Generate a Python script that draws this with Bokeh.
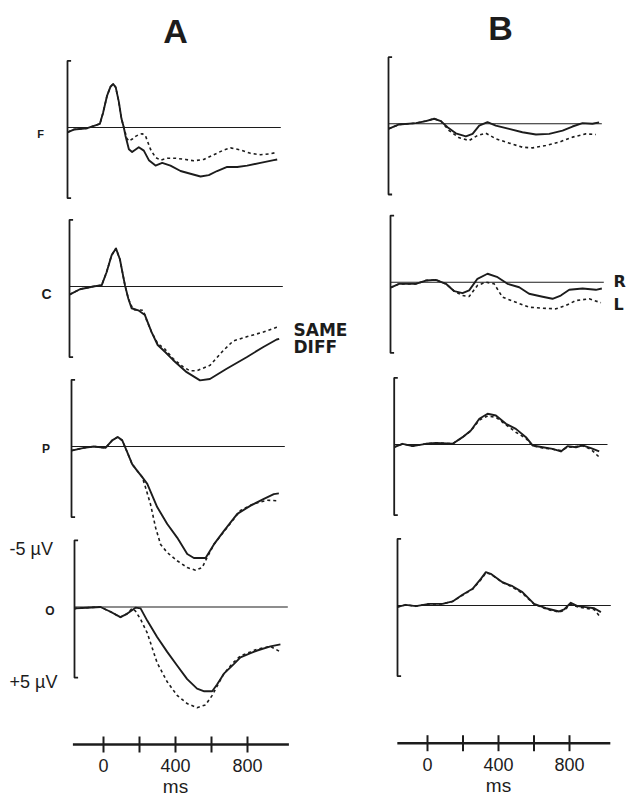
from bokeh.plotting import figure
from bokeh.models import Range1d
from bokeh.core.properties import value
from bokeh.embed import file_html
from bokeh.resources import INLINE

# ---------------- data (ms, microvolts; negative plotted upward) ----------------
ROWS = ["F", "C", "P", "O"]

# Column A: SAME (dotted) vs DIFF (solid)
A_F_DIFF_t = [-200, -165, -90, -20, -2, 20, 39, 54, 68, 85, 100, 113, 122, 141, 159, 196, 224, 252, 289, 326, 372, 428, 483, 539, 585, 631, 687, 743, 798, 872, 946, 965]
A_F_DIFF_v = [0.35, 0.15, 0.05, -0.27, -1.1, -2.35, -3.0, -3.2, -2.95, -1.9, -0.64, 0.0, 0.6, 1.6, 1.8, 1.45, 1.7, 2.4, 2.8, 2.6, 2.8, 3.2, 3.4, 3.6, 3.5, 3.2, 2.9, 2.9, 2.8, 2.6, 2.4, 2.35]
A_F_SAME_t = [-200, -165, -90, -20, -2, 20, 39, 54, 68, 85, 100, 113, 130, 141, 160, 178, 200, 215, 233, 261, 289, 317, 354, 400, 456, 502, 557, 613, 669, 706, 761, 817, 872, 919, 956, 965]
A_F_SAME_v = [0.35, 0.15, 0.05, -0.27, -1.1, -2.35, -3.0, -3.2, -2.95, -1.9, -0.64, 0.0, 0.8, 1.0, 0.85, 0.65, 0.5, 0.46, 0.6, 1.6, 2.2, 2.4, 2.26, 2.26, 2.35, 2.45, 2.35, 2.0, 1.65, 1.5, 1.65, 1.9, 2.0, 1.95, 1.85, 1.8]

A_C_DIFF_t = [-200, -142, -68, -21, 6, 34, 58, 80, 108, 127, 145, 182, 219, 256, 290, 330, 375, 451, 525, 580, 673, 784, 877, 951, 965]
A_C_DIFF_v = [0.6, 0.2, 0.0, -0.1, -1.05, -2.3, -2.8, -2.0, -0.1, 0.9, 1.6, 1.75, 2.1, 3.35, 4.3, 4.8, 5.4, 6.3, 6.9, 6.8, 6.05, 5.2, 4.45, 3.9, 3.85]
A_C_SAME_t = [-200, -142, -68, -21, 6, 34, 58, 80, 108, 127, 154, 210, 229, 256, 290, 330, 375, 430, 469, 506, 580, 655, 710, 784, 877, 951, 965]
A_C_SAME_v = [0.6, 0.2, 0.0, -0.1, -1.05, -2.3, -2.8, -2.0, -0.1, 0.9, 1.7, 1.75, 2.5, 3.35, 4.2, 4.6, 5.3, 5.9, 6.2, 6.2, 5.8, 4.7, 4.0, 3.7, 3.35, 3.0, 2.95]

A_P_DIFF_t = [-200, -131, -76, -11, 26, 57, 82, 109, 137, 160, 193, 221, 276, 332, 387, 443, 480, 545, 591, 647, 721, 795, 869, 924, 952]
A_P_DIFF_v = [0.3, 0.1, 0.0, 0.1, -0.45, -0.7, -0.45, 0.4, 1.3, 1.7, 2.25, 2.75, 4.45, 5.7, 6.7, 7.9, 8.2, 8.2, 7.2, 6.2, 4.95, 4.35, 3.85, 3.5, 3.45]
A_P_SAME_t = [-200, -131, -76, -11, 26, 57, 82, 109, 137, 160, 193, 211, 239, 267, 295, 332, 387, 443, 489, 526, 554, 591, 665, 739, 813, 887, 952]
A_P_SAME_v = [0.3, 0.1, 0.0, 0.1, -0.45, -0.7, -0.45, 0.4, 1.3, 1.7, 2.25, 3.0, 4.25, 5.95, 7.2, 7.8, 8.4, 8.9, 9.1, 8.9, 8.15, 7.2, 5.95, 4.7, 4.2, 3.95, 4.0]

A_O_DIFF_t = [-200, -195, -130, -56, 0, 55, 92, 139, 167, 204, 259, 315, 370, 426, 481, 521, 565, 592, 630, 685, 722, 778, 815, 889, 944]
A_O_DIFF_v = [0.15, 0.1, 0.05, 0.0, 0.35, 0.75, 0.5, 0.05, 0.1, 1.0, 2.2, 3.3, 4.3, 5.3, 6.0, 6.2, 6.2, 5.7, 4.9, 4.2, 3.7, 3.4, 3.2, 2.9, 2.75]
A_O_SAME_t = [-200, -195, -130, -56, 0, 55, 92, 120, 139, 167, 204, 259, 315, 370, 426, 481, 528, 565, 601, 630, 685, 722, 778, 815, 889, 944]
A_O_SAME_v = [0.15, 0.1, 0.05, 0.0, 0.35, 0.75, 0.5, 0.1, 0.3, 0.9, 1.9, 4.1, 5.5, 6.5, 7.1, 7.4, 7.2, 6.5, 5.6, 4.9, 4.05, 3.6, 3.3, 3.1, 2.9, 3.3]

# Column B: R (solid) vs L (dotted)
B_F_R_t = [-200, -141, -48, 7, 54, 91, 128, 174, 230, 267, 304, 350, 396, 470, 544, 619, 693, 767, 822, 878, 933, 970]
B_F_R_v = [0.37, 0.05, -0.05, -0.2, -0.37, -0.2, 0.25, 0.7, 0.93, 0.74, 0.13, -0.12, 0.13, 0.37, 0.62, 0.79, 0.74, 0.5, 0.2, -0.05, 0.0, -0.1]
B_F_L_t = [-200, -141, -48, 7, 54, 91, 137, 193, 248, 294, 341, 396, 470, 544, 600, 674, 748, 822, 896, 952]
B_F_L_v = [0.37, 0.05, -0.05, -0.2, -0.37, -0.2, 0.5, 1.03, 1.23, 0.86, 0.69, 1.1, 1.42, 1.72, 1.77, 1.6, 1.35, 0.98, 0.74, 0.79]

B_C_R_t = [-200, -152, -59, -4, 52, 108, 154, 200, 237, 283, 339, 395, 450, 515, 570, 645, 700, 746, 793, 867, 941, 974]
B_C_R_v = [0.4, 0.12, 0.12, -0.12, -0.17, 0.12, 0.66, 0.8, 0.6, -0.25, -0.62, -0.37, 0.12, 0.37, 0.85, 1.07, 1.22, 0.98, 0.56, 0.46, 0.56, 0.46]
B_C_L_t = [-200, -152, -59, -4, 52, 108, 154, 200, 237, 283, 330, 376, 422, 496, 570, 645, 719, 774, 830, 904, 969]
B_C_L_v = [0.4, 0.12, 0.12, -0.12, -0.17, 0.12, 0.66, 0.98, 1.05, 0.24, 0.0, 0.12, 1.1, 1.47, 1.84, 1.91, 1.96, 1.71, 1.35, 1.22, 1.51]

B_P_R_t = [-200, -153, -98, -24, 32, 125, 180, 226, 273, 319, 365, 421, 476, 532, 569, 625, 680, 726, 763, 810, 847, 893, 939]
B_P_R_v = [0.2, -0.05, 0.12, -0.05, -0.12, -0.05, -0.54, -1.03, -1.89, -2.26, -2.13, -1.52, -1.15, -0.54, 0.07, 0.2, 0.32, 0.51, 0.12, 0.2, 0.07, 0.27, 0.51]
B_P_L_t = [-200, -153, -98, -24, 32, 125, 180, 226, 273, 319, 365, 421, 476, 532, 569, 625, 680, 726, 763, 810, 847, 893, 939]
B_P_L_v = [0.2, -0.05, 0.12, -0.05, -0.12, -0.05, -0.54, -1.0, -1.8, -2.1, -2.0, -1.45, -0.9, -0.45, 0.1, 0.25, 0.35, 0.45, 0.2, 0.15, 0.1, 0.35, 0.93]

B_O_R_t = [-200, -154, -98, -24, 50, 106, 161, 217, 263, 291, 318, 383, 439, 494, 559, 624, 698, 726, 763, 800, 846, 893, 930]
B_O_R_v = [0.1, -0.05, 0.05, -0.12, -0.12, -0.3, -0.79, -1.23, -1.96, -2.45, -2.33, -1.71, -1.42, -0.98, -0.12, 0.2, 0.44, 0.29, -0.2, 0.05, 0.12, 0.2, 0.49]
B_O_L_t = [-200, -154, -98, -24, 50, 106, 161, 217, 263, 291, 318, 383, 439, 494, 559, 624, 698, 726, 763, 800, 846, 893, 930]
B_O_L_v = [0.1, -0.05, 0.05, -0.12, -0.12, -0.3, -0.75, -1.2, -1.9, -2.4, -2.3, -1.7, -1.35, -0.9, -0.1, 0.25, 0.5, 0.35, -0.1, 0.1, 0.2, 0.3, 0.9]

EPOCH = [-200, 985]            # ms, baseline extent
BRACKET = [-4.9, 5.2]          # microvolts, calibration bracket
TIME_TICKS = [0, 200, 400, 600, 800]
TIME_LABEL_TICKS = [0, 400, 800]
TIME_LABELS = ["0", "400", "800"]
TIME_AXIS = [-170, 1030]

SERIES = {
    ("A", "F"): [(A_F_SAME_t, A_F_SAME_v, "dot"), (A_F_DIFF_t, A_F_DIFF_v, "solid")],
    ("A", "C"): [(A_C_SAME_t, A_C_SAME_v, "dot"), (A_C_DIFF_t, A_C_DIFF_v, "solid")],
    ("A", "P"): [(A_P_SAME_t, A_P_SAME_v, "dot"), (A_P_DIFF_t, A_P_DIFF_v, "solid")],
    ("A", "O"): [(A_O_SAME_t, A_O_SAME_v, "dot"), (A_O_DIFF_t, A_O_DIFF_v, "solid")],
    ("B", "F"): [(B_F_L_t, B_F_L_v, "dot"), (B_F_R_t, B_F_R_v, "solid")],
    ("B", "C"): [(B_C_L_t, B_C_L_v, "dot"), (B_C_R_t, B_C_R_v, "solid")],
    ("B", "P"): [(B_P_L_t, B_P_L_v, "dot"), (B_P_R_t, B_P_R_v, "solid")],
    ("B", "O"): [(B_O_L_t, B_O_L_v, "dot"), (B_O_R_t, B_O_R_v, "solid")],
}

# ---------------- layout (page pixels; canvas starts at the page corner) ----------------
W, H = 629, 800
OX, OY = 0, 0
PX_PER_MS = 0.18
PX_PER_UV = 13.6
# page x of the -200 ms axis, and page y of the baseline, for each panel
AXIS_X = {"A": [67, 69, 71, 74], "B": [388, 390, 393.7, 397]}
BASE_Y = {"A": [127, 286, 446, 606.5], "B": [123.3, 281.7, 444, 605]}
# bottom time scale: page x of 0 ms, px per ms, page y of line
TSCALE = {"A": (103, 0.18, 744), "B": (427, 0.1775, 742.7)}

INK = "#1c1c1c"


def xr(p0, v0, k):
    start = v0 - (p0 - OX) / k
    return Range1d(start=start, end=start + W / k)


def yr(py0, v0, k):
    return Range1d(start=v0 + (OY + H - py0) / k, end=v0 + (OY - py0) / k)


p = figure(width=W, height=H, output_backend="svg", toolbar_location=None,
           x_range=Range1d(OX, OX + W), y_range=Range1d(OY + H, OY),
           x_axis_type=None, y_axis_type=None, min_border=0)
p.outline_line_color = None
p.background_fill_color = "white"
p.border_fill_color = "white"
p.xgrid.visible = False
p.ygrid.visible = False

for col in ["A", "B"]:
    for i, row in enumerate(ROWS):
        xn, yn = f"x{col}{row}", f"y{col}{row}"
        p.extra_x_ranges[xn] = xr(AXIS_X[col][i], -200, PX_PER_MS)
        p.extra_y_ranges[yn] = yr(BASE_Y[col][i], 0, PX_PER_UV)
        kw = dict(x_range_name=xn, y_range_name=yn)
        # baseline
        p.line(EPOCH, [0, 0], line_color=INK, line_width=1.1, **kw)
        # calibration bracket
        p.line([EPOCH[0] + 20, EPOCH[0], EPOCH[0], EPOCH[0] + 20],
               [BRACKET[0], BRACKET[0], BRACKET[1], BRACKET[1]],
               line_color=INK, line_width=1.8, **kw)
        for t, v, style in SERIES[(col, row)]:
            if style == "dot":
                p.line(t, v, line_color=INK, line_width=1.6, line_dash="3 3", **kw)
            else:
                p.line(t, v, line_color=INK, line_width=1.9, line_join="round", **kw)

    # bottom time scale
    x0, k, ly = TSCALE[col]
    tn = f"t{col}"
    p.extra_x_ranges[tn] = xr(x0, 0, k)
    p.line(TIME_AXIS, [ly, ly], line_color=INK, line_width=2.6, x_range_name=tn)
    p.segment(x0=TIME_TICKS, x1=TIME_TICKS, y0=[ly - 8] * 5, y1=[ly + 8] * 5,
              line_color=INK, line_width=2, x_range_name=tn)
    p.text(x=TIME_LABEL_TICKS, y=[ly + 21] * 3, text=TIME_LABELS,
           text_font=value("Liberation Sans"), text_font_size="18px",
           text_align="center", text_baseline="middle", text_color=INK, x_range_name=tn)
    p.text(x=[400], y=[ly + 42], text=["ms"],
           text_font=value("Liberation Sans"), text_font_size="19px",
           text_align="center", text_baseline="middle", text_color=INK, x_range_name=tn)

# column titles
p.text(x=[175, 500], y=[30, 27], text=["A", "B"], text_font=value("Liberation Sans"),
       text_font_size="34px", text_font_style="bold", text_align="center",
       text_baseline="middle", text_color=INK)

# row labels
for lab, lx, ly, fs in [("F", 40, 133.5, "11px"), ("C", 46, 293, "14px"),
                        ("P", 45.5, 448, "12px"), ("O", 49.5, 610, "12px")]:
    p.text(x=[lx], y=[ly], text=[lab], text_font=value("Liberation Sans"),
           text_font_size=fs, text_font_style="bold", text_align="center",
           text_baseline="middle", text_color=INK)

# calibration labels
p.text(x=[9, 9], y=[548, 681], text=["-5 \u00b5V", "+5 \u00b5V"],
       text_font=value("Liberation Sans"), text_font_size="18px",
       text_align="left", text_baseline="middle", text_color=INK)

# legends
p.text(x=[293, 293], y=[329, 346], text=["SAME", "DIFF"], text_font=value("DejaVu Sans"),
       text_font_size="17px", text_font_style="bold", text_align="left",
       text_baseline="middle", text_color=INK)
p.text(x=[613, 613], y=[281, 304], text=["R", "L"], text_font=value("DejaVu Sans"),
       text_font_size="16px", text_font_style="bold", text_align="left",
       text_baseline="middle", text_color=INK)

open("out.html", "w").write(file_html(p, INLINE))
